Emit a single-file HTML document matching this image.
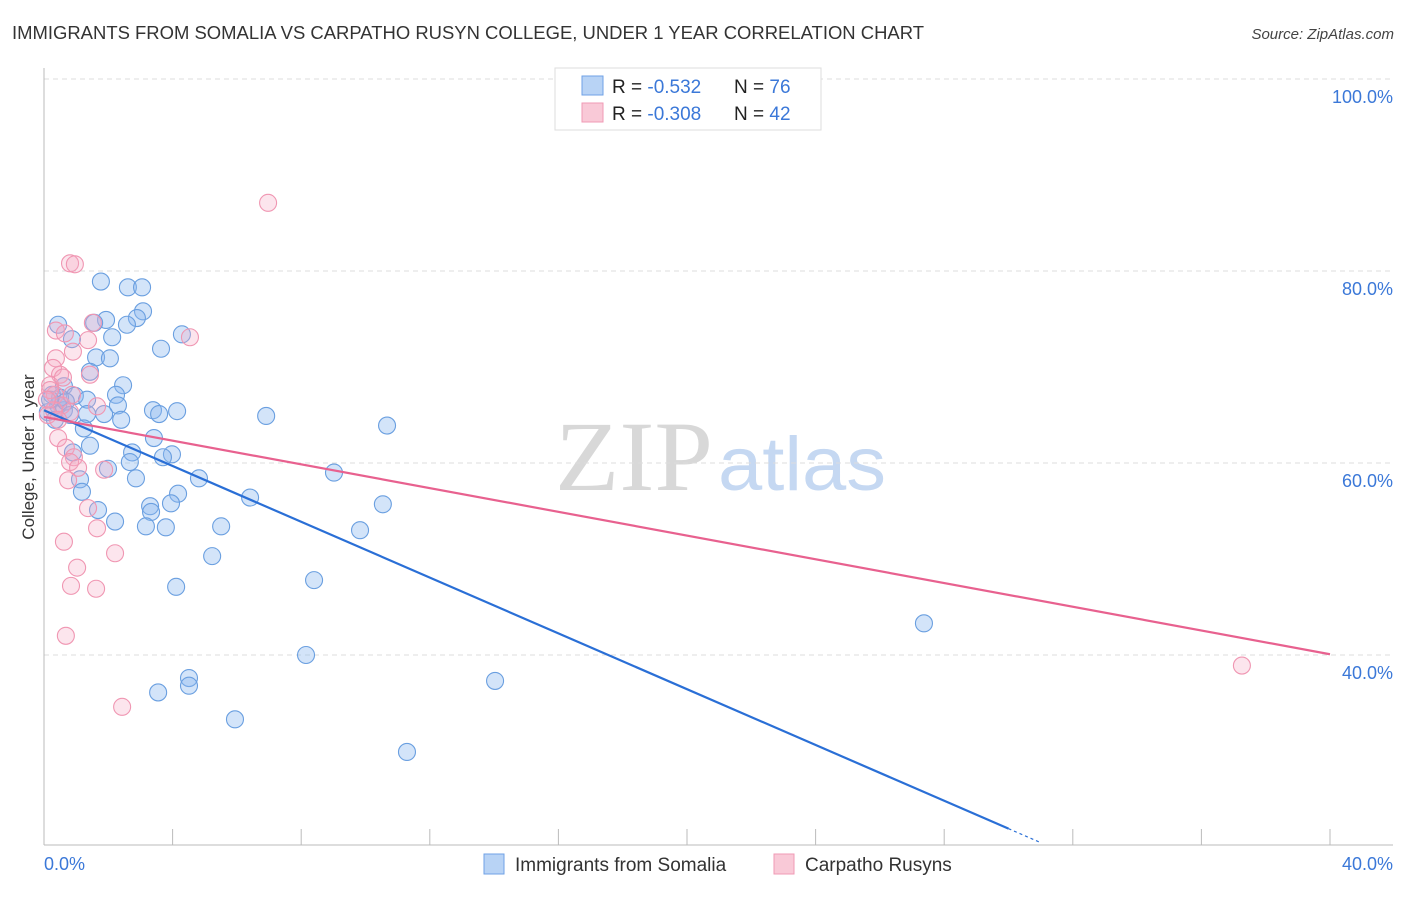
<!DOCTYPE html>
<html><head><meta charset="utf-8"><style>
body{margin:0;background:#fff;font-family:"Liberation Sans",sans-serif}
svg text{font-family:"Liberation Sans",sans-serif}
</style></head><body>
<svg id="chart" width="1406" height="892" xmlns="http://www.w3.org/2000/svg">
<text x="12" y="39" font-size="18" fill="#333" textLength="912" lengthAdjust="spacingAndGlyphs">IMMIGRANTS FROM SOMALIA VS CARPATHO RUSYN COLLEGE, UNDER 1 YEAR CORRELATION CHART</text>
<text x="1394" y="39" font-size="15" fill="#444" text-anchor="end" font-style="italic">Source: ZipAtlas.com</text>
<text x="555" y="490" font-size="100" fill="#d8d8d8" textLength="158" lengthAdjust="spacingAndGlyphs" style="font-family:'Liberation Serif',serif">ZIP</text>
<text x="718" y="490" font-size="76" fill="#c5d8f2" textLength="168" lengthAdjust="spacingAndGlyphs">atlas</text>
<g id="grid"></g>
<line x1="44" y1="845" x2="1393" y2="845" stroke="#bbb"/>
<line x1="44" y1="68" x2="44" y2="845" stroke="#bbb"/>
<g id="ticks"></g>
<g id="pts"></g>
<g id="lines"></g>
<text transform="translate(34,457) rotate(-90)" font-size="17" fill="#333" text-anchor="middle">College, Under 1 year</text>
<text x="44" y="870" font-size="18" fill="#3b78d8">0.0%</text>
<text x="1393" y="870" font-size="18" fill="#3b78d8" text-anchor="end">40.0%</text>
<g>
<rect x="555" y="68" width="266" height="62" fill="#fff" stroke="#ddd"/>
<rect x="582" y="76" width="21" height="19" fill="#b8d3f5" stroke="#6fa2e6"/>
<rect x="582" y="103" width="21" height="19" fill="#f9c9d7" stroke="#f09ab4"/>
<text x="612" y="93" font-size="19" fill="#222">R = <tspan fill="#3b78d8">-0.532</tspan></text>
<text x="734" y="93" font-size="19" fill="#222">N = <tspan fill="#3b78d8">76</tspan></text>
<text x="612" y="120" font-size="19" fill="#222">R = <tspan fill="#3b78d8">-0.308</tspan></text>
<text x="734" y="120" font-size="19" fill="#222">N = <tspan fill="#3b78d8">42</tspan></text>
</g>
<g>
<rect x="484" y="854" width="20" height="20" fill="#b8d3f5" stroke="#6fa2e6"/>
<text x="515" y="871" font-size="19" fill="#333">Immigrants from Somalia</text>
<rect x="774" y="854" width="20" height="20" fill="#f9c9d7" stroke="#f09ab4"/>
<text x="805" y="871" font-size="19" fill="#333">Carpatho Rusyns</text>
</g>
</svg>
<script>
const yTicks=[100,80,60,40];
const xTickVals=[0,4,8,12,16,20,24,28,32,36,40];
const blueX=[1.77,2.61,3.05,3.08,2.89,0.44,1.93,2.58,1.56,0.87,2.12,4.29,3.64,1.62,2.05,1.43,2.46,0.62,2.24,0.96,2.30,1.34,3.39,4.14,3.58,6.91,0.62,1.34,1.87,2.40,10.67,3.42,1.24,1.43,2.74,0.90,3.98,3.70,2.67,1.99,9.02,1.12,2.86,4.82,4.17,3.30,1.18,3.95,6.41,10.54,3.33,1.68,2.21,3.17,3.79,5.51,9.83,5.23,8.40,4.11,27.37,8.15,4.51,4.51,3.55,14.03,5.94,11.29,0.44,0.25,0.12,0.50,0.34,0.68,0.81,0.19];
const blueY=[78.9,78.3,78.3,75.8,75.1,74.4,74.9,74.4,74.6,72.9,73.1,73.4,71.9,71.0,70.9,69.5,68.1,68.0,67.1,67.0,66.0,66.6,65.5,65.4,65.1,64.9,65.5,65.1,65.1,64.5,63.9,62.6,63.6,61.8,61.1,61.1,60.9,60.6,60.1,59.4,59.0,58.3,58.4,58.4,56.8,55.5,57.0,55.8,56.4,55.7,54.9,55.1,53.9,53.4,53.3,53.4,53.0,50.3,47.8,47.1,43.3,40.0,37.6,36.8,36.1,37.3,33.3,29.9,66.0,67.1,65.3,66.8,64.5,66.4,65.0,66.6];
const pinkX=[0.81,0.96,6.97,0.37,0.65,1.52,1.37,0.90,0.37,0.28,0.50,0.19,0.59,1.43,1.65,4.54,0.34,0.56,0.81,0.12,0.44,0.68,0.93,0.81,1.06,1.87,0.75,1.37,1.65,0.62,2.21,1.03,0.84,1.62,0.68,2.43,37.26,0.19,0.31,0.44,0.87,0.09];
const pinkY=[80.8,80.7,87.1,73.8,73.5,74.6,72.8,71.6,70.9,69.9,69.2,68.1,68.9,69.2,65.9,73.1,67.1,66.0,65.3,65.0,62.6,61.6,60.6,60.1,59.5,59.3,58.2,55.3,53.2,51.8,50.6,49.1,47.2,46.9,42.0,34.6,38.9,67.6,65.5,64.5,67.1,66.6];
const blueTrend=[65.5,-1.453];
const pinkTrend=[64.8,-0.618];
const NS="http://www.w3.org/2000/svg";
const X=v=>44+v*32.15, Y=v=>79+(100-v)*9.6;
function mk(t,a,p){const e=document.createElementNS(NS,t);for(const k in a)e.setAttribute(k,a[k]);document.getElementById(p).appendChild(e);return e;}
yTicks.forEach(v=>{
 const l=mk('line',{x1:44,x2:1393,y1:Y(v),y2:Y(v),stroke:'#ddd','stroke-dasharray':'5,4'},'grid');
 
 
 const t=mk('text',{x:1393,y:Y(v)+24,'font-size':18,fill:'#3b78d8','text-anchor':'end'},'grid');
 t.textContent=v.toFixed(1)+'%';
 
 
});
xTickVals.forEach(v=>{
 const l=mk('line',{x1:X(v),x2:X(v),y1:829,y2:845,stroke:'#bbb'},'ticks');
 
 
});
blueX.forEach((x,i)=>{
 const c=mk('circle',{cx:X(x),cy:Y(blueY[i]),r:8.5,fill:'rgba(140,185,240,0.38)',stroke:'#6a9fe0','stroke-width':1.1},'pts');
 
 
});
pinkX.forEach((x,i)=>{
 const c=mk('circle',{cx:X(x),cy:Y(pinkY[i]),r:8.5,fill:'rgba(246,170,195,0.3)',stroke:'#f096b2','stroke-width':1.1},'pts');
 
 
});
const bEnd=30.0, bDash=31.0;
let l1=mk('line',{x1:X(0),y1:Y(blueTrend[0]),x2:X(bEnd),y2:Y(blueTrend[0]+blueTrend[1]*bEnd),stroke:'#2a6fd6','stroke-width':2.2},'lines');


let l2=mk('line',{x1:X(bEnd),y1:Y(blueTrend[0]+blueTrend[1]*bEnd),x2:X(bDash),y2:Y(blueTrend[0]+blueTrend[1]*bDash),stroke:'#2a6fd6','stroke-width':1.2,'stroke-dasharray':'3,3'},'lines');


let l3=mk('line',{x1:X(0),y1:Y(pinkTrend[0]),x2:X(40),y2:Y(pinkTrend[0]+pinkTrend[1]*40),stroke:'#e8618f','stroke-width':2.2},'lines');


</script>
</body></html>
